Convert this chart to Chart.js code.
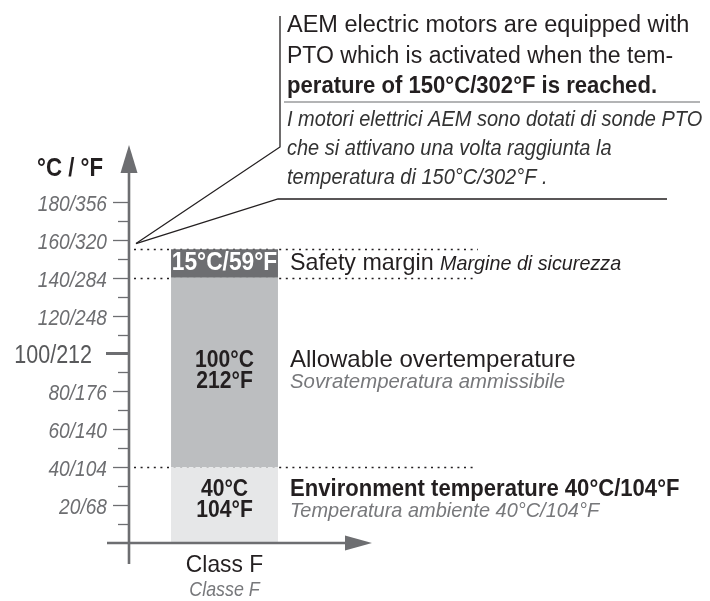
<!DOCTYPE html>
<html>
<head>
<meta charset="utf-8">
<script src="https://cdn.jsdelivr.net/npm/chart.js@4"></script>
<style>
html,body{margin:0;padding:0;background:#fff;}
#wrap{width:710px;height:601px;}
</style>
</head>
<body>
<div id="wrap"><canvas id="c" width="710" height="601"></canvas></div>
<script>
// ---- data ----
const categories = ['Class F'];
const categoriesIt = ['Classe F'];
const ambientTemp = [40];      // °C, environment temperature
const overTemp = [100];        // °C, allowable overtemperature
const safetyMargin = [15];     // °C, safety margin
const labeledTicks = [20, 40, 60, 80, 100, 120, 140, 160, 180];
const tickLabels = ['20/68', '40/104', '60/140', '80/176', '100/212', '120/248', '140/284', '160/320', '180/356'];
const minorTicks = [10, 30, 50, 70, 90, 110, 130, 150, 170];
const highlightTick = 100;
const ptoLeaderValue = 158;

const FN = '"Liberation Sans", Arial, sans-serif';
const DARK = '#231f20';
const GRAY = '#6d6e71';
const LGRAY = '#77787b';

// draw text horizontally condensed (narrow face emulation)
function txt(ctx, s, x, y, font, color, align, sx) {
  ctx.save();
  ctx.font = font;
  ctx.fillStyle = color;
  ctx.textAlign = align || 'left';
  ctx.translate(x, y);
  ctx.scale(sx || 1, 1);
  ctx.fillText(s, 0, 0);
  const w = ctx.measureText(s).width * (sx || 1);
  ctx.restore();
  return w;
}

const overlay = {
  id: 'overlay',
  beforeDatasetsDraw(chart) {
    const ctx = chart.ctx;
    const y = chart.scales.y;
    const levels = [ambientTemp[0], ambientTemp[0] + overTemp[0], ambientTemp[0] + overTemp[0] + safetyMargin[0]];
    const ends = [475, 473, 478];
    ctx.save();
    ctx.strokeStyle = DARK;
    ctx.lineWidth = 1.3;
    ctx.setLineDash([2, 4.6]);
    levels.forEach((v, i) => {
      const py = Math.round(y.getPixelForValue(v)) + 0.5;
      ctx.beginPath();
      ctx.moveTo(134, py);
      ctx.lineTo(ends[i], py);
      ctx.stroke();
    });
    ctx.restore();
  },
  afterDraw(chart) {
    const ctx = chart.ctx;
    const y = chart.scales.y;
    const ax = 129;
    const y0 = y.getPixelForValue(0);
    ctx.save();
    ctx.textBaseline = 'alphabetic';
    // axes
    ctx.strokeStyle = GRAY;
    ctx.fillStyle = GRAY;
    ctx.lineWidth = 2.6;
    ctx.beginPath();
    ctx.moveTo(ax, 168); ctx.lineTo(ax, 564);
    ctx.stroke();
    ctx.beginPath();
    ctx.moveTo(ax, y.getPixelForValue(210)); ctx.lineTo(ax + 8.5, 173); ctx.lineTo(ax - 8.5, 173); ctx.closePath();
    ctx.fill();
    ctx.beginPath();
    ctx.moveTo(107, y0); ctx.lineTo(348, y0);
    ctx.stroke();
    ctx.beginPath();
    ctx.moveTo(372, y0); ctx.lineTo(345, y0 - 7.5); ctx.lineTo(345, y0 + 7.5); ctx.closePath();
    ctx.fill();
    // ticks
    ctx.lineWidth = 1.3;
    minorTicks.forEach(v => {
      const py = Math.round(y.getPixelForValue(v)) + 0.5;
      ctx.beginPath(); ctx.moveTo(118, py); ctx.lineTo(ax, py); ctx.stroke();
    });
    labeledTicks.forEach((v, i) => {
      const py = Math.round(y.getPixelForValue(v)) + 0.5;
      ctx.beginPath();
      if (v === highlightTick) {
        ctx.lineWidth = 3;
        ctx.moveTo(106, py); ctx.lineTo(ax, py);
      } else {
        ctx.lineWidth = 1.3;
        ctx.moveTo(113, py); ctx.lineTo(ax, py);
      }
      ctx.stroke();
      if (v === highlightTick) {
        txt(ctx, tickLabels[i], 92, py + 9, '25px ' + FN, '#58595b', 'right', 0.86);
      } else {
        txt(ctx, tickLabels[i], 107, py + 8, 'italic 22px ' + FN, GRAY, 'right', 0.87);
      }
    });
    txt(ctx, '°C / °F', 37, 176, 'bold 25px ' + FN, DARK, 'left', 0.89);

    // bar labels
    const cx = chart.getDatasetMeta(0).data[0].x;
    txt(ctx, safetyMargin[0] + '°C/59°F', cx, 270, 'bold 25px ' + FN, '#ffffff', 'center', 0.91);
    txt(ctx, overTemp[0] + '°C', cx, 367, 'bold 24px ' + FN, DARK, 'center', 0.88);
    txt(ctx, '212°F', cx, 388, 'bold 24px ' + FN, DARK, 'center', 0.88);
    txt(ctx, ambientTemp[0] + '°C', cx, 496, 'bold 24px ' + FN, DARK, 'center', 0.88);
    txt(ctx, '104°F', cx, 517, 'bold 24px ' + FN, DARK, 'center', 0.88);
    // category label
    txt(ctx, categories[0], cx, 572, '24px ' + FN, DARK, 'center', 0.95);
    txt(ctx, categoriesIt[0], cx, 596, 'italic 21px ' + FN, LGRAY, 'center', 0.85);

    // right-side descriptions
    const w = txt(ctx, 'Safety margin ', 290, 270, '24px ' + FN, DARK, 'left', 0.97);
    txt(ctx, 'Margine di sicurezza', 290 + w, 270, 'italic 21px ' + FN, DARK, 'left', 0.94);
    txt(ctx, 'Allowable overtemperature', 290, 367, '24px ' + FN, DARK, 'left', 1.0);
    txt(ctx, 'Sovratemperatura ammissibile', 290, 388, 'italic 21px ' + FN, LGRAY, 'left', 0.97);
    txt(ctx, 'Environment temperature 40°C/104°F', 290, 496, 'bold 24px ' + FN, DARK, 'left', 0.92);
    txt(ctx, 'Temperatura ambiente 40°C/104°F', 290, 517, 'italic 21px ' + FN, LGRAY, 'left', 0.95);

    // PTO callout
    const py = y.getPixelForValue(ptoLeaderValue);
    ctx.strokeStyle = DARK;
    ctx.lineWidth = 1.3;
    ctx.beginPath();
    ctx.moveTo(136, py); ctx.lineTo(280, 147); ctx.lineTo(280, 16);
    ctx.stroke();
    ctx.beginPath();
    ctx.moveTo(136, py); ctx.lineTo(278, 199); ctx.lineTo(667, 199);
    ctx.stroke();
    ctx.strokeStyle = '#9a9b9d';
    ctx.lineWidth = 1.5;
    ctx.beginPath();
    ctx.moveTo(284, 102); ctx.lineTo(700, 102);
    ctx.stroke();

    txt(ctx, 'AEM electric motors are equipped with', 287, 32, '23.5px ' + FN, DARK, 'left', 1.0);
    txt(ctx, 'PTO which is activated when the tem-', 287, 63, '23.5px ' + FN, DARK, 'left', 0.98);
    txt(ctx, 'perature of 150°C/302°F is reached.', 287, 93, 'bold 23.5px ' + FN, DARK, 'left', 0.94);
    txt(ctx, 'I motori elettrici AEM sono dotati di sonde PTO', 287, 126, 'italic 21.5px ' + FN, '#333333', 'left', 0.93);
    txt(ctx, 'che si attivano una volta raggiunta la', 287, 155, 'italic 21.5px ' + FN, '#333333', 'left', 0.93);
    txt(ctx, 'temperatura di 150°C/302°F .', 287, 184, 'italic 21.5px ' + FN, '#333333', 'left', 0.93);
    ctx.restore();
  }
};

new Chart(document.getElementById('c'), {
  type: 'bar',
  data: {
    labels: categories,
    datasets: [
      { label: 'Environment temperature', data: ambientTemp, backgroundColor: '#e6e7e8' },
      { label: 'Allowable overtemperature', data: overTemp, backgroundColor: '#bcbec0' },
      { label: 'Safety margin', data: safetyMargin, backgroundColor: '#6d6e71' }
    ]
  },
  options: {
    responsive: false,
    animation: false,
    events: [],
    layout: { padding: { left: 128, right: 389, top: 145, bottom: 58 } },
    datasets: { bar: { barPercentage: 1, categoryPercentage: 0.554, borderWidth: 0 } },
    plugins: { legend: { display: false }, tooltip: { enabled: false } },
    scales: {
      x: { display: false, stacked: true },
      y: { display: false, stacked: true, min: 0, max: 210 }
    }
  },
  plugins: [overlay]
});
</script>
</body>
</html>
